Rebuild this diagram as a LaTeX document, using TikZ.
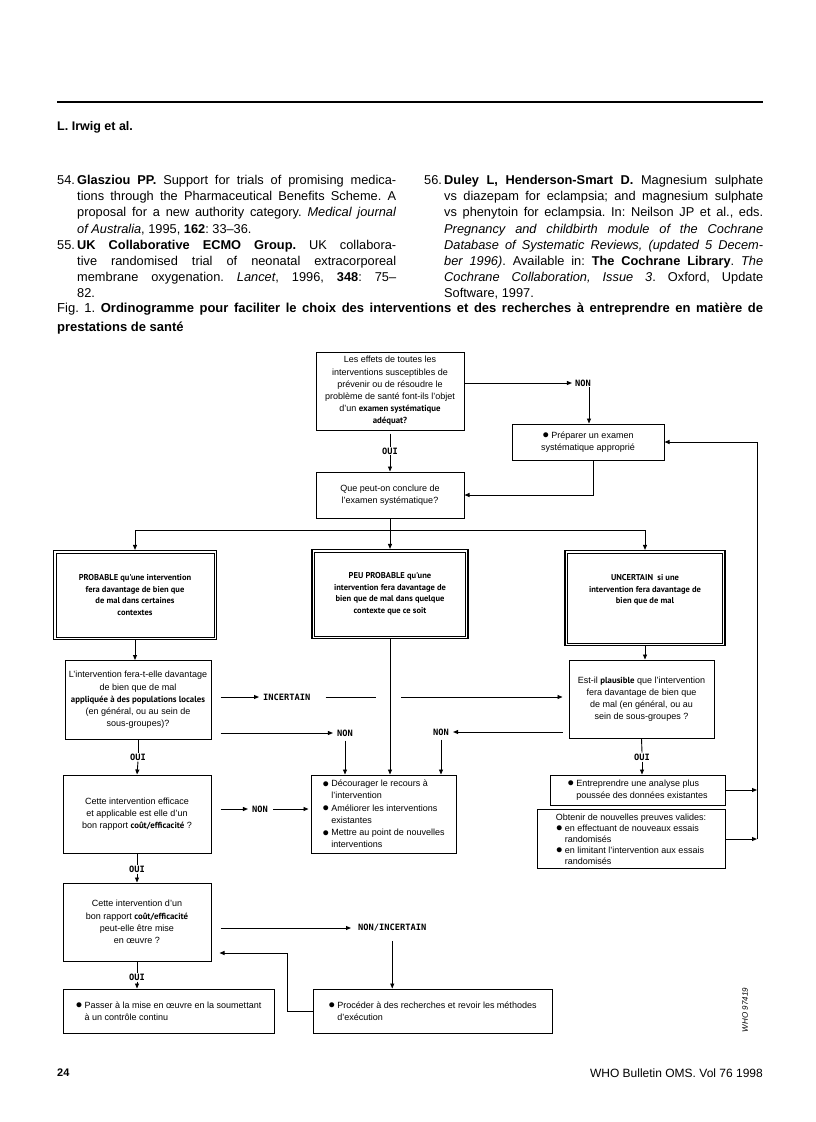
\documentclass[tikz,border=0pt]{standalone}
\usepackage{fontspec}
\setmainfont{Liberation Sans}
\newfontfamily\lblfont{PT Sans}
\newfontfamily\tagfont{DejaVu Sans Mono}
\usetikzlibrary{arrows.meta, positioning, calc}

\newcommand{\hl}[1]{{\lblfont\bfseries\fontsize{8.8}{10}\selectfont #1}}
\newcommand{\bul}{\makebox[9pt][l]{\raisebox{-0.6pt}{\fontsize{11.5}{12}\selectfont ●}}}
\newcommand{\ind}{\hspace*{9pt}}
\newcommand{\refsetup}{\frenchspacing\hyphenpenalty=10000 \tolerance=9999 \emergencystretch=8pt}

\begin{document}
\begin{tikzpicture}[x=1pt, y=-1pt,
    qbox/.style={draw, line width=1pt, font=\fontsize{9}{12.2}\selectfont, align=center, inner sep=2pt},
    lbox/.style={draw, line width=1pt, font=\fontsize{9}{12.2}\selectfont, align=left, inner sep=4pt},
    dbox/.style={draw, line width=1.2pt, align=center,
                 font=\lblfont\bfseries\fontsize{8.5}{11.5}\selectfont},
    tag/.style={font=\tagfont\bfseries\fontsize{8.7}{10}\selectfont, inner sep=1pt},
    arr/.style={line width=0.9pt, -{Triangle[length=5pt, width=4pt]}},
    ln/.style={line width=0.9pt},
    reftext/.style={anchor=north west, text width=339pt, align=justify, inner sep=0pt,
                    font=\fontsize{12.8}{16.2}\selectfont}]
  \useasboundingbox (0,0) rectangle (816,1122);

  % page head and references
  \draw[line width=1.4pt] (57,102) -- (763,102);
  \node[anchor=west, inner sep=0pt, font=\bfseries\fontsize{12.5}{14}\selectfont] (author) at (57,127) {L. Irwig et al.};
  \node[reftext] (refA) at (57,175) {\refsetup
    {\hangindent=20pt\hangafter=1\noindent\makebox[20pt][l]{54.}\textbf{Glasziou PP.} Support for trials of promising medica-\linebreak
     tions through the Pharmaceutical Benefits Scheme. A\linebreak
     proposal for a new authority category. \textit{Medical journal}\linebreak
     \textit{of Australia}, 1995, \textbf{162}: 33--36.\par}
    {\hangindent=20pt\hangafter=1\noindent\makebox[20pt][l]{55.}\textbf{UK Collaborative ECMO Group.} UK collabora-\linebreak
     tive randomised trial of neonatal extracorporeal\linebreak
     membrane oxygenation. \textit{Lancet}, 1996, \textbf{348}: 75--\linebreak
     82.\par}};
  \node[reftext] (refB) at (424,175) {\refsetup
    {\hangindent=20pt\hangafter=1\noindent\makebox[20pt][l]{56.}\textbf{Duley L, Henderson-Smart D.} Magnesium sulphate\linebreak
     vs diazepam for eclampsia; and magnesium sulphate\linebreak
     vs phenytoin for eclampsia. In: Neilson JP et al., eds.\linebreak
     \textit{Pregnancy and childbirth module of the Cochrane}\linebreak
     \textit{Database of Systematic Reviews, (updated 5 Decem-}\linebreak
     \textit{ber 1996)}. Available in: \textbf{The Cochrane Library}. \textit{The}\linebreak
     \textit{Cochrane Collaboration, Issue 3}. Oxford, Update\linebreak
     Software, 1997.\par}};
  \node[anchor=north west, text width=706pt, align=justify, inner sep=0pt,
        font=\fontsize{13}{18.5}\selectfont] (cap) at (57,303) {\refsetup
    Fig. 1. \textbf{Ordinogramme pour faciliter le choix des interventions et des recherches à entreprendre en matière de}\linebreak
    \textbf{prestations de santé}};

  % flowchart
  \node[qbox, minimum width=148pt, minimum height=78pt] (q1) at (390,391)
    {Les effets de toutes les\\ interventions susceptibles de\\ prévenir ou de résoudre le\\
     problème de santé font-ils l'objet\\ d'un \hl{examen systématique}\\ \hl{adéquat?}};
  \node[tag] (non1) at (583,383) {NON};
  \node[qbox, minimum width=152pt, minimum height=36pt] (prep) at (588,442)
    {\bul Préparer un examen\\ systématique approprié};
  \node[tag] (oui1) at (390,451) {OUI};
  \node[qbox, minimum width=148pt, minimum height=46pt] (q2) at (390,495)
    {Que peut-on conclure de\\ l'examen systématique?};

  \node[dbox, minimum width=163pt, minimum height=89pt] (d1) at (135,595)
    {PROBABLE qu'une intervention\\ fera davantage de bien que\\ de mal dans certaines\\ contextes};
  \node[dbox, minimum width=156pt, minimum height=89pt] (d2) at (390,594)
    {PEU PROBABLE qu'une\\ intervention fera davantage de\\ bien que de mal dans quelque\\ contexte que ce soit};
  \node[dbox, minimum width=160pt, minimum height=95pt] (d3) at (645,598)
    {UNCERTAIN\ \ si une\\ intervention fera davantage de\\ bien que de mal\\[6pt]};
  \foreach \d in {d1,d2,d3}
    \draw[line width=0.7pt] ([shift={(3.2pt,-3.2pt)}]\d.north west) rectangle ([shift={(-3.2pt,3.2pt)}]\d.south east);

  \node[qbox, minimum width=146pt, minimum height=79pt] (q3) at (138,700)
    {L'intervention fera-t-elle davantage\\ de bien que de mal\\ \hl{appliquée à des populations locales}\\
     (en général, ou au sein de\\ sous-groupes)?};
  \node[qbox, minimum width=145pt, minimum height=78pt] (q5) at (641.5,699)
    {Est-il \hl{plausible} que l'intervention\\ fera davantage de bien que\\ de mal (en général, ou au\\ sein de sous-groupes ?};
  \node[tag, anchor=west] (inc) at (262,697) {INCERTAIN};
  \node[tag] (nonA) at (345,733) {NON};
  \node[tag] (nonB) at (441,732) {NON};
  \node[tag] (oui2) at (138,757) {OUI};
  \node[tag] (oui5) at (642,757) {OUI};

  \node[qbox, minimum width=148pt, minimum height=78pt] (q4) at (137,814)
    {Cette intervention efficace\\ et applicable est elle d'un\\ bon rapport \hl{coût/efficacité} ?};
  \node[tag] (nonC) at (260,809) {NON};
  \node[lbox, minimum width=145pt, minimum height=78pt] (dec) at (383.5,814)
    {\bul Décourager le recours à\\ \ind l'intervention\\ \bul Améliorer les interventions\\ \ind existantes\\
     \bul Mettre au point de nouvelles\\ \ind interventions};
  \node[lbox, minimum width=175pt, minimum height=30pt] (ent) at (637.5,790)
    {\bul Entreprendre une analyse plus\\ \ind poussée des données existantes};
  \node[lbox, minimum width=188pt, minimum height=57pt, font=\fontsize{9}{11}\selectfont] (obt) at (631,839)
    {Obtenir de nouvelles preuves valides:\\ \bul en effectuant de nouveaux essais\\ \ind randomisés\\
     \bul en limitant l'intervention aux essais\\ \ind randomisés};

  \node[tag] (oui3) at (137,869) {OUI};
  \node[qbox, minimum width=148pt, minimum height=78pt] (q6) at (137,922)
    {Cette intervention d'un\\ bon rapport \hl{coût/efficacité}\\ peut-elle être mise\\ en œuvre ?};
  \node[tag, anchor=west] (nonD) at (357,928) {NON/INCERTAIN};
  \node[tag] (oui4) at (137,977) {OUI};
  \node[lbox, minimum width=211pt, minimum height=44pt] (pass) at (168.5,1011)
    {\bul Passer à la mise en œuvre en la soumettant\\ \ind à un contrôle continu};
  \node[lbox, minimum width=239pt, minimum height=44pt] (proc) at (432.5,1011)
    {\bul Procéder à des recherches et revoir les méthodes\\ \ind d'exécution};

  \coordinate (br) at (390,530);
  \coordinate (lt) at (757,442);
  \coordinate (lb) at (757,839);
  \coordinate (gl) at (376,697);
  \coordinate (gr) at (401,697);
  \coordinate (ret) at (287,953);

  % connectors
  \draw[arr, shorten >=2pt] (q1.east |- non1) -- (non1.west);
  \draw[arr] ([xshift=6pt]non1.south) -- ([xshift=6pt]non1.south |- prep.north);
  \draw[ln, shorten <=3pt] (q1.south) -- (oui1.north);
  \draw[arr] (oui1.south) -- (q2.north);
  \draw[arr] ([xshift=5pt]prep.south) |- (q2.east);
  \draw[arr] (lb) -- (lt) -- (prep.east);
  \draw[ln] (q2.south) -- (br);
  \draw[arr] (br) -| (d1.north);
  \draw[arr] (br) -- (d2.north);
  \draw[arr] (br) -| (d3.north);
  \draw[arr] (d1.south) -- (d1.south |- q3.north);
  \draw[arr] (d3.south) -- (d3.south |- q5.north);
  \draw[arr] (d2.south) -- (d2.south |- dec.north);
  \draw[arr, shorten <=9pt, shorten >=3pt] (q3.east |- inc) -- (inc.west);
  \draw[ln, shorten <=14pt] (inc.east) -- (gl);
  \draw[arr, shorten >=6pt] (gr) -- (q5.west |- gr);
  \draw[arr, shorten <=9pt, shorten >=3pt] (q3.east |- nonA) -- (nonA.west);
  \draw[arr, shorten <=3pt] (nonA.south) -- (nonA.south |- dec.north);
  \draw[arr, shorten <=6pt, shorten >=3pt] (q5.west |- nonB) -- (nonB.east);
  \draw[arr, shorten <=3pt] (nonB.south) -- (nonB.south |- dec.north);
  \draw[ln] (q3.south) -- (oui2.north);
  \draw[arr] (oui2.south) -- (q4.north);
  \draw[ln] (q5.south) -- (oui5.north);
  \draw[arr] (oui5.south) -- (oui5.south |- ent.north);
  \draw[arr] (ent.east) -- (ent.east -| lt);
  \draw[arr] (obt.east) -- (obt.east -| lb);
  \draw[arr, shorten <=9pt, shorten >=3pt] (q4.east |- nonC) -- (nonC.west);
  \draw[arr, shorten <=4pt, shorten >=2pt] (nonC.east) -- (dec.west |- nonC);
  \draw[ln] (q4.south) -- (oui3.north);
  \draw[arr] (oui3.south) -- (q6.north);
  \draw[arr, shorten <=9pt, shorten >=6pt] (q6.east |- nonD) -- (nonD.west);
  \draw[arr, shorten <=8pt] (nonD.south) -- (nonD.south |- proc.north);
  \draw[ln] (q6.south) -- (oui4.north);
  \draw[arr] (oui4.south) -- (oui4.south |- pass.north);
  \draw[arr, shorten >=8pt] (proc.west) -| (ret) -- (q6.east |- ret);

  % foot of page
  \node[rotate=90, font=\itshape\fontsize{8}{9}\selectfont] (who) at (745,1010) {WHO 97419};
  \node[anchor=west, inner sep=0pt, font=\bfseries\fontsize{11}{12}\selectfont] (pg) at (57,1073) {24};
  \node[anchor=east, inner sep=0pt, font=\fontsize{12}{13}\selectfont] (jr) at (763,1073) {WHO Bulletin OMS. Vol 76 1998};
\end{tikzpicture}
\end{document}
